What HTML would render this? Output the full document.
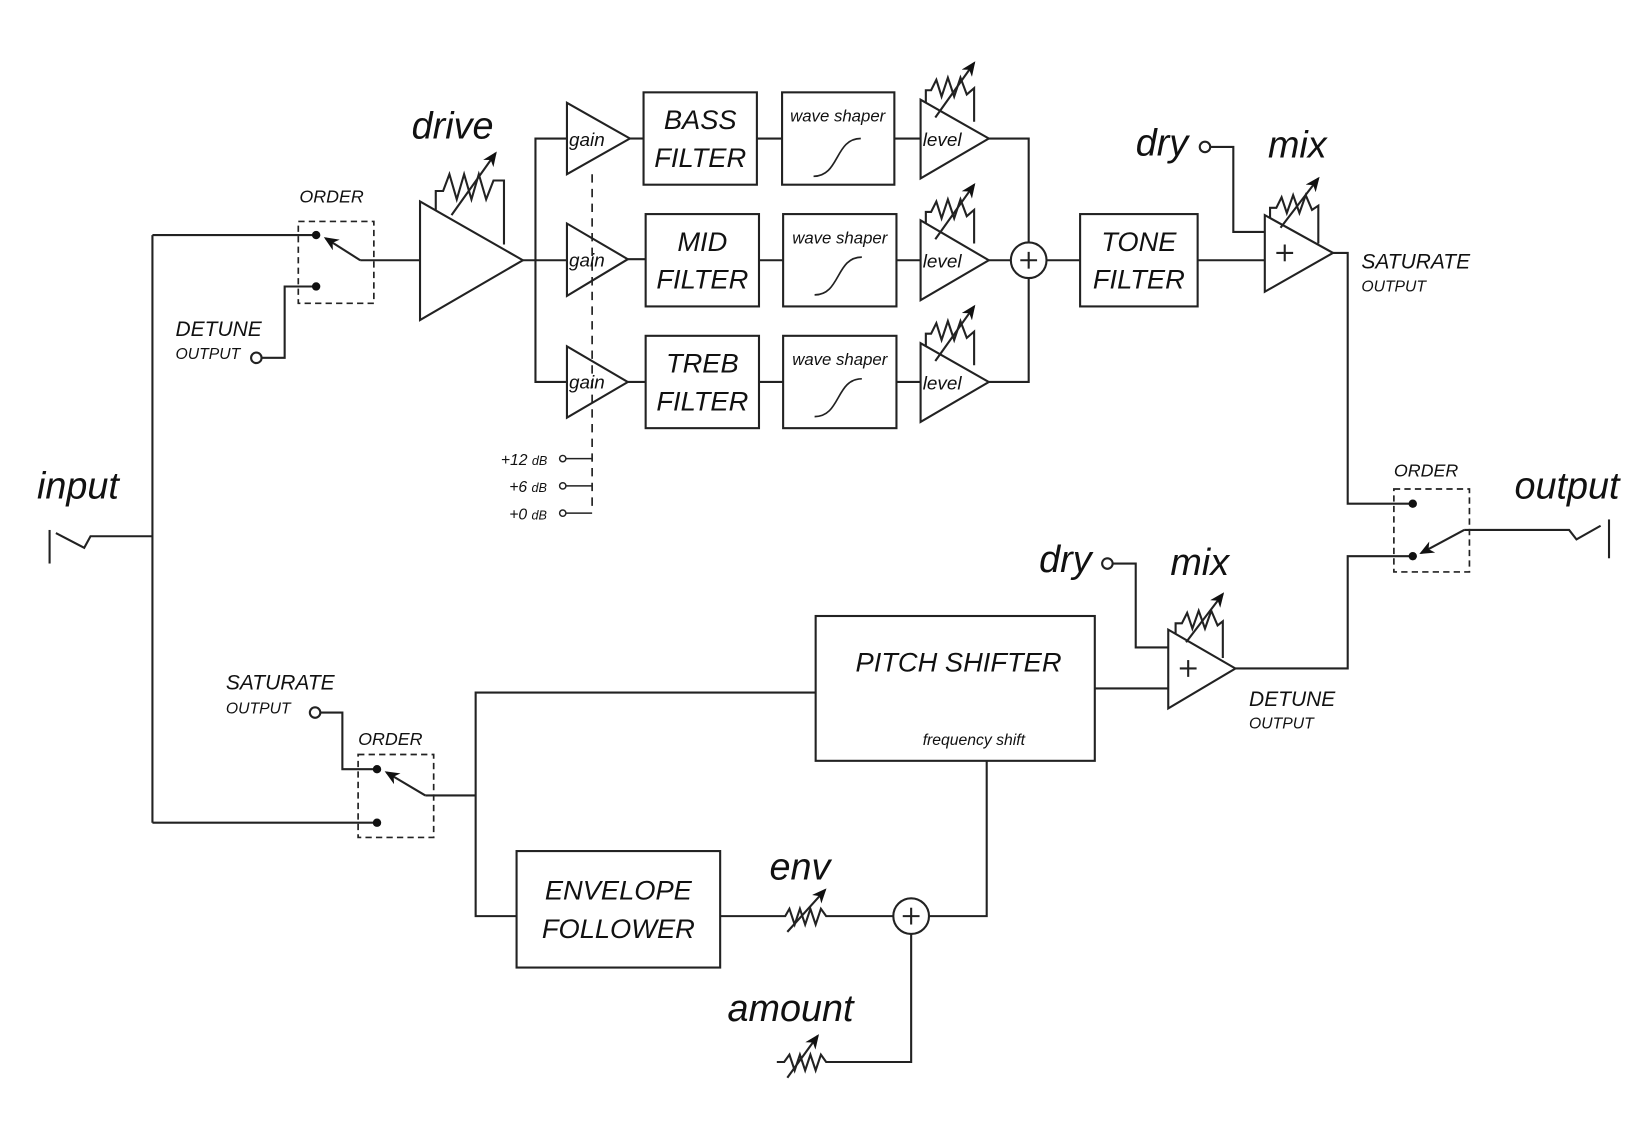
<!DOCTYPE html>
<html><head><meta charset="utf-8"><style>
html,body{margin:0;padding:0;background:#fff;}
svg{display:block;}
text{font-family:"Liberation Sans",sans-serif;font-style:italic;fill:#111;}
</style></head><body>
<svg width="1646" height="1147" viewBox="0 0 1568 1093" xmlns="http://www.w3.org/2000/svg">
<defs>
<marker id="ah" markerWidth="8" markerHeight="8" refX="6" refY="4" orient="auto" markerUnits="userSpaceOnUse">
<path d="M0,0 L8,4 L0,8 Z" fill="#111"/></marker>
<marker id="ah2" markerWidth="14" markerHeight="12" refX="12" refY="6" orient="auto" markerUnits="userSpaceOnUse">
<path d="M0,0 L14,6 L0,12 L4,6 Z" fill="#111"/></marker>
</defs>
<g fill="none" stroke="#222" stroke-width="2">
<!-- input jack -->
<line x1="47" y1="505" x2="47" y2="537"/>
<polyline points="53,508 80,522 86,511 145,511"/>
<polyline points="145,224 145,784"/>
<line x1="145" y1="224" x2="301" y2="224"/>
<line x1="145" y1="784" x2="359" y2="784"/>

<!-- top order switch -->
<rect x="284" y="211" width="72" height="78" stroke-dasharray="6,4" stroke-width="1.6"/>
<line x1="343" y1="248" x2="310" y2="227" marker-end="url(#ah2)"/>
<line x1="343" y1="248" x2="400" y2="248"/>
<polyline points="249,341 271,341 271,273 301,273"/>
<circle cx="244" cy="341" r="5"/>

<!-- drive -->
<polygon points="400,192 400,305 498,248"/>
<polyline points="415,200 415,182 422,182 428,166 435,190 442,166 449,190 456,166 463,190 470,172 480,172 480,233"/>
<line x1="430" y1="205" x2="472" y2="146" marker-end="url(#ah2)"/>
<line x1="498" y1="248" x2="540" y2="248"/>
<polyline points="540,132 510,132 510,364 540,364"/>

<!-- gains -->
<polygon points="540,98 540,166 600,132"/>
<polygon points="540,213 540,282 598,247"/>
<polygon points="540,330 540,398 598,364"/>
<line x1="564" y1="166" x2="564" y2="488" stroke-dasharray="8,6" stroke-width="1.6"/>
<polyline points="539,437 564,437" stroke-width="1.4"/>
<polyline points="539,463 564,463" stroke-width="1.4"/>
<polyline points="539,489 564,489" stroke-width="1.4"/>
<circle cx="536" cy="437" r="3" stroke-width="1.4"/>
<circle cx="536" cy="463" r="3" stroke-width="1.4"/>
<circle cx="536" cy="489" r="3" stroke-width="1.4"/>

<!-- filters -->
<line x1="600" y1="132" x2="613" y2="132"/>
<line x1="598" y1="247" x2="615" y2="247"/>
<line x1="598" y1="364" x2="615" y2="364"/>
<rect x="613" y="88" width="108" height="88"/>
<rect x="615" y="204" width="108" height="88"/>
<rect x="615" y="320" width="108" height="88"/>
<line x1="721" y1="132" x2="745" y2="132"/>
<line x1="723" y1="248" x2="746" y2="248"/>
<line x1="723" y1="364" x2="746" y2="364"/>
<rect x="745" y="88" width="107" height="88"/>
<rect x="746" y="204" width="108" height="88"/>
<rect x="746" y="320" width="108" height="88"/>
<path d="M775,168 C800,168 795,132 820,132" stroke-width="1.6"/>
<path d="M776,281 C801,281 796,245 821,245" stroke-width="1.6"/>
<path d="M776,397 C801,397 796,361 821,361" stroke-width="1.6"/>
<line x1="852" y1="132" x2="877" y2="132"/>
<line x1="854" y1="248" x2="877" y2="248"/>
<line x1="854" y1="364" x2="877" y2="364"/>

<!-- levels -->
<polygon points="877,95 877,170 942,132"/>
<polygon points="877,210 877,286 942,248"/>
<polygon points="877,327 877,402 942,364"/>
<polyline points="882,98 882,86 887,86 892,76 897,92 903,74 909,92 915,74 921,90 928,84 928,116"/>
<line x1="891" y1="112" x2="928" y2="60" marker-end="url(#ah2)"/>
<polyline points="882,213 882,202 887,202 892,192 897,208 903,190 909,208 915,190 921,206 928,200 928,232"/>
<line x1="891" y1="228" x2="928" y2="176" marker-end="url(#ah2)"/>
<polyline points="882,330 882,318 887,318 892,308 897,324 903,306 909,324 915,306 921,322 928,316 928,348"/>
<line x1="891" y1="344" x2="928" y2="292" marker-end="url(#ah2)"/>
<polyline points="942,132 980,132 980,231"/>
<polyline points="942,364 980,364 980,265"/>
<line x1="942" y1="248" x2="963" y2="248"/>
<circle cx="980" cy="248" r="17"/>
<line x1="972" y1="248" x2="988" y2="248"/><line x1="980" y1="240" x2="980" y2="256"/>
<line x1="997" y1="248" x2="1029" y2="248"/>
<rect x="1029" y="204" width="112" height="88"/>
<line x1="1141" y1="248" x2="1205" y2="248"/>

<!-- mix 1 -->
<polygon points="1205,205 1205,278 1270,241"/>
<line x1="1216" y1="241" x2="1232" y2="241"/><line x1="1224" y1="233" x2="1224" y2="249"/>
<circle cx="1148" cy="140" r="5"/>
<polyline points="1153,140 1175,140 1175,221 1205,221"/>
<polyline points="1210,208 1210,198 1216,198 1221,188 1226,203 1232,186 1238,203 1244,186 1250,200 1256,196 1256,232"/>
<line x1="1220" y1="217" x2="1256" y2="170" marker-end="url(#ah2)"/>
<polyline points="1270,241 1284,241 1284,480 1346,480"/>

<!-- right order -->
<rect x="1328" y="466" width="72" height="79" stroke-dasharray="6,4" stroke-width="1.6"/>
<line x1="1395" y1="505" x2="1354" y2="527" marker-end="url(#ah2)"/>
<polyline points="1395,505 1495,505 1502,514 1525,501"/>
<line x1="1533" y1="495" x2="1533" y2="532"/>
<polyline points="1177,637 1284,637 1284,530 1346,530"/>

<!-- mix 2 -->
<polygon points="1113,600 1113,675 1177,637"/>
<line x1="1124" y1="637" x2="1140" y2="637"/><line x1="1132" y1="629" x2="1132" y2="645"/>
<circle cx="1055" cy="537" r="5"/>
<polyline points="1060,537 1082,537 1082,617 1113,617"/>
<polyline points="1120,604 1120,594 1126,594 1131,584 1136,599 1142,582 1148,599 1154,582 1160,596 1165,592 1165,627"/>
<line x1="1130" y1="612" x2="1165" y2="566" marker-end="url(#ah2)"/>

<!-- pitch shifter -->
<rect x="777" y="587" width="266" height="138"/>
<line x1="1043" y1="656" x2="1113" y2="656"/>
<polyline points="777,660 453,660 453,873 492,873"/>
<line x1="405" y1="758" x2="453" y2="758"/>
<rect x="341" y="719" width="72" height="79" stroke-dasharray="6,4" stroke-width="1.6"/>
<line x1="405" y1="758" x2="368" y2="736" marker-end="url(#ah2)"/>
<circle cx="300" cy="679" r="5"/>
<polyline points="305,679 326,679 326,733 359,733"/>

<!-- envelope -->
<rect x="492" y="811" width="194" height="111"/>
<polyline points="686,873 748,873 752,866 757,881 762,866 767,881 772,866 777,881 782,866 787,873 851,873"/>
<line x1="750" y1="888" x2="786" y2="848" marker-end="url(#ah2)"/>
<circle cx="868" cy="873" r="17"/>
<line x1="860" y1="873" x2="876" y2="873"/><line x1="868" y1="865" x2="868" y2="881"/>
<polyline points="885,873 940,873 940,725"/>
<polyline points="868,890 868,1012 787,1012 782,1005 777,1020 772,1005 767,1020 762,1005 757,1020 752,1005 747,1012 740,1012"/>
<line x1="750" y1="1027" x2="779" y2="987" marker-end="url(#ah2)"/>
</g>
<g fill="#111">
<circle cx="301" cy="224" r="4"/><circle cx="301" cy="273" r="4"/>
<circle cx="1346" cy="480" r="4"/><circle cx="1346" cy="530" r="4"/>
<circle cx="359" cy="733" r="4"/><circle cx="359" cy="784" r="4"/>
</g>

<text x="35" y="475" font-size="36">input</text>
<text x="1443" y="475" font-size="36">output</text>
<text x="392" y="132" font-size="36">drive</text>
<text x="1082" y="148" font-size="36">dry</text>
<text x="1208" y="150" font-size="36">mix</text>
<text x="990" y="545" font-size="36">dry</text>
<text x="1115" y="548" font-size="36">mix</text>
<text x="733" y="838" font-size="36">env</text>
<text x="693" y="973" font-size="36">amount</text>
<text x="285" y="193" font-size="17">ORDER</text>
<text x="1328" y="454" font-size="17">ORDER</text>
<text x="341" y="710" font-size="17">ORDER</text>
<text x="167" y="320" font-size="20">DETUNE</text>
<text x="167" y="342" font-size="15">OUTPUT</text>
<text x="215" y="657" font-size="20">SATURATE</text>
<text x="215" y="680" font-size="15">OUTPUT</text>
<text x="1297" y="256" font-size="20">SATURATE</text>
<text x="1297" y="278" font-size="15">OUTPUT</text>
<text x="1190" y="673" font-size="20">DETUNE</text>
<text x="1190" y="694" font-size="15">OUTPUT</text>
<text x="542" y="139" font-size="18">gain</text>
<text x="542" y="254" font-size="18">gain</text>
<text x="542" y="370" font-size="18">gain</text>
<text x="879" y="139" font-size="18">level</text>
<text x="879" y="255" font-size="18">level</text>
<text x="879" y="371" font-size="18">level</text>
<text x="798" y="116" font-size="16" text-anchor="middle">wave shaper</text>
<text x="800" y="232" font-size="16" text-anchor="middle">wave shaper</text>
<text x="800" y="348" font-size="16" text-anchor="middle">wave shaper</text>
<g font-size="26" text-anchor="middle">
<text x="667" y="123">BASS</text><text x="667" y="159">FILTER</text>
<text x="669" y="239">MID</text><text x="669" y="275">FILTER</text>
<text x="669" y="355">TREB</text><text x="669" y="391">FILTER</text>
<text x="1085" y="239">TONE</text><text x="1085" y="275">FILTER</text>
<text x="589" y="857">ENVELOPE</text><text x="589" y="894">FOLLOWER</text>
</g>
<text x="815" y="640" font-size="26">PITCH SHIFTER</text>
<text x="879" y="710" font-size="15">frequency shift</text>
<text x="477" y="443" font-size="15">+12 <tspan font-size="12">dB</tspan></text>
<text x="485" y="469" font-size="15">+6 <tspan font-size="12">dB</tspan></text>
<text x="485" y="495" font-size="15">+0 <tspan font-size="12">dB</tspan></text>
</svg>
</body></html>
